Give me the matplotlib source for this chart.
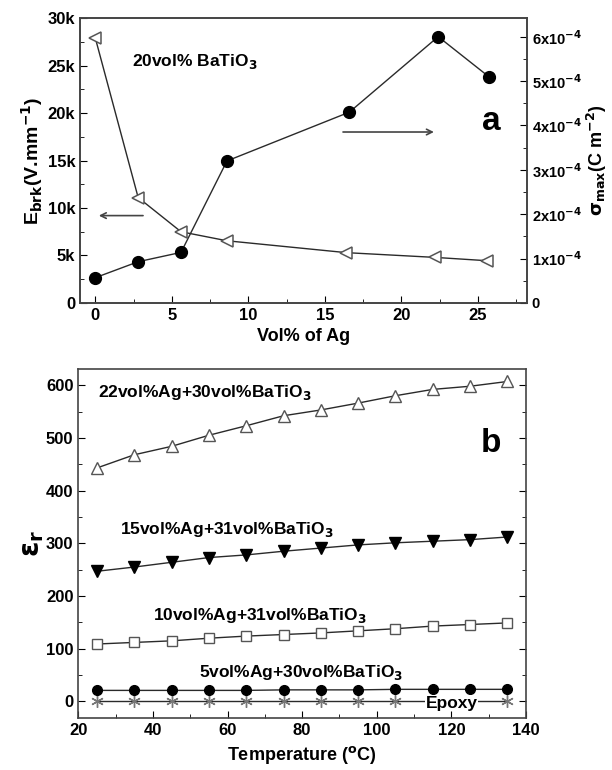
import matplotlib.pyplot as plt
from matplotlib.ticker import MultipleLocator

plt.rcParams['font.family'] = ['Liberation Sans', 'DejaVu Sans']
plt.rcParams['font.weight'] = 'bold'
plt.rcParams['mathtext.default'] = 'bf'

# panel a: breakdown field and max charge density vs Ag content
ag_ebrk = [0, 2.8, 5.6, 8.6, 16.4, 22.2, 25.6]
ebrk = [27900, 11100, 7500, 6550, 5300, 4800, 4450]
ag_sigma = [0, 2.8, 5.6, 8.6, 16.6, 22.4, 25.7]
sigma = [0.57e-4, 0.93e-4, 1.14e-4, 3.2e-4, 4.3e-4, 6.0e-4, 5.1e-4]
ebrk_ticks = [0, 5000, 10000, 15000, 20000, 25000, 30000]
ebrk_labels = ['0', '5k', '10k', '15k', '20k', '25k', '30k']
sigma_ticks = [0, 1e-4, 2e-4, 3e-4, 4e-4, 5e-4, 6e-4]
sigma_labels = ['0'] + [r'%dx10$^{-4}$' % i for i in range(1, 7)]

# panel b: dielectric constant vs temperature
temp = [25, 35, 45, 55, 65, 75, 85, 95, 105, 115, 125, 135]
eps_22ag = [443, 468, 484, 505, 523, 542, 553, 566, 580, 592, 598, 607]
eps_15ag = [247, 255, 264, 273, 278, 285, 291, 297, 301, 304, 307, 312]
eps_10ag = [109, 112, 115, 120, 124, 127, 130, 134, 138, 143, 146, 149]
eps_5ag = [21, 21, 21, 21, 21, 22, 22, 22, 23, 23, 23, 23]
eps_epoxy = [0, 0, 0, 0, 0, 0, 0, 0, 0, 0, 0, 0]

line_col = '#2a2a2a'
open_col = '#555555'
tick_size = 12
note_size = 12.5

fig = plt.figure(figsize=(6.12, 7.7), dpi=100)

# ---- panel a ----
ax1 = fig.add_axes([0.1307, 0.6065, 0.7304, 0.3701])
ax1.plot(ag_ebrk, ebrk, color=line_col, lw=1.0, marker='<', ms=8.5,
         mfc='white', mec=open_col, mew=1.1)
ax1.set_xlim(-1, 28.2)
ax1.set_ylim(0, 30000)
ax1.set_yticks(ebrk_ticks)
ax1.set_yticklabels(ebrk_labels)
ax1.xaxis.set_major_locator(MultipleLocator(5))
ax1.xaxis.set_minor_locator(MultipleLocator(2.5))
ax1.yaxis.set_minor_locator(MultipleLocator(2500))
ax1.tick_params(which='both', direction='in', labelsize=tick_size)
ax1.tick_params(which='major', length=5)
ax1.tick_params(which='minor', length=3)
ax1.set_xlabel('Vol% of Ag', fontsize=13, fontweight='bold')
ax1.set_ylabel(r'E$_{brk}$(V.mm$^{-1}$)', fontsize=14, fontweight='bold', labelpad=2)
ax1.text(2.4, 25400, r'20vol% BaTiO$_3$', fontsize=note_size, va='center')
ax1.text(25.9, 19100, 'a', fontsize=24, ha='center', va='center')
ax1.annotate('', xy=(0.05, 9200), xytext=(3.3, 9200),
             arrowprops=dict(arrowstyle='->', color='#444444', lw=1.2))
ax1.annotate('', xy=(22.3, 18000), xytext=(16.0, 18000),
             arrowprops=dict(arrowstyle='->', color='#444444', lw=1.2))

ax2 = ax1.twinx()
ax2.plot(ag_sigma, sigma, color=line_col, lw=1.0, marker='o', ms=8.5,
         mfc='black', mec='black')
ax2.set_ylim(0, 6.42e-4)
ax2.set_yticks(sigma_ticks)
ax2.set_yticklabels(sigma_labels)
ax2.yaxis.set_minor_locator(MultipleLocator(0.5e-4))
ax2.tick_params(which='both', direction='in', labelsize=10.5)
ax2.tick_params(which='major', length=5)
ax2.tick_params(which='minor', length=3)
ax2.set_ylabel(r'$\sigma_{max}$(C m$^{-2}$)', fontsize=13, fontweight='bold', labelpad=2)

for ax in (ax1, ax2):
    for s in ax.spines.values():
        s.set_color('#444444')
        s.set_linewidth(1.2)

# ---- panel b ----
ax3 = fig.add_axes([0.128, 0.0671, 0.7315, 0.4532])
ax3.plot(temp, eps_epoxy, color=line_col, lw=1.0, marker=(6, 2, 0), ms=9,
         mec='#777777', mew=1.0)
ax3.plot(temp, eps_5ag, color=line_col, lw=1.0, marker='o', ms=7,
         mfc='black', mec='black')
ax3.plot(temp, eps_10ag, color=line_col, lw=1.0, marker='s', ms=6.5,
         mfc='white', mec=open_col, mew=1.0)
ax3.plot(temp, eps_15ag, color=line_col, lw=1.0, marker='v', ms=9,
         mfc='black', mec='black')
ax3.plot(temp, eps_22ag, color=line_col, lw=1.0, marker='^', ms=9,
         mfc='white', mec=open_col, mew=1.0)
ax3.set_xlim(20, 140)
ax3.set_ylim(-32, 630)
ax3.xaxis.set_major_locator(MultipleLocator(20))
ax3.xaxis.set_minor_locator(MultipleLocator(10))
ax3.yaxis.set_major_locator(MultipleLocator(100))
ax3.yaxis.set_minor_locator(MultipleLocator(50))
ax3.tick_params(which='both', direction='in', right=True, labelsize=tick_size)
ax3.tick_params(which='major', length=5)
ax3.tick_params(which='minor', length=3)
ax3.set_xlabel(r'Temperature ($^{\mathbf{o}}$C)', fontsize=13, fontweight='bold')
ax3.set_ylabel(r'$\varepsilon_r$', fontsize=20, labelpad=0)
for s in ax3.spines.values():
    s.set_color('#444444')
    s.set_linewidth(1.2)

ax3.text(25.3, 587, r'22vol%Ag+30vol%BaTiO$_3$', fontsize=note_size, va='center')
ax3.text(31.2, 327, r'15vol%Ag+31vol%BaTiO$_3$', fontsize=note_size, va='center')
ax3.text(40.1, 164, r'10vol%Ag+31vol%BaTiO$_3$', fontsize=note_size, va='center')
ax3.text(52.3, 54, r'5vol%Ag+30vol%BaTiO$_3$', fontsize=note_size, va='center')
ax3.text(120, -3, 'Epoxy', fontsize=note_size, ha='center', va='center',
         bbox=dict(facecolor='white', edgecolor='none', pad=0.5))
ax3.text(130.7, 490, 'b', fontsize=24, ha='center', va='center')

fig.savefig('out.png', dpi=100)
